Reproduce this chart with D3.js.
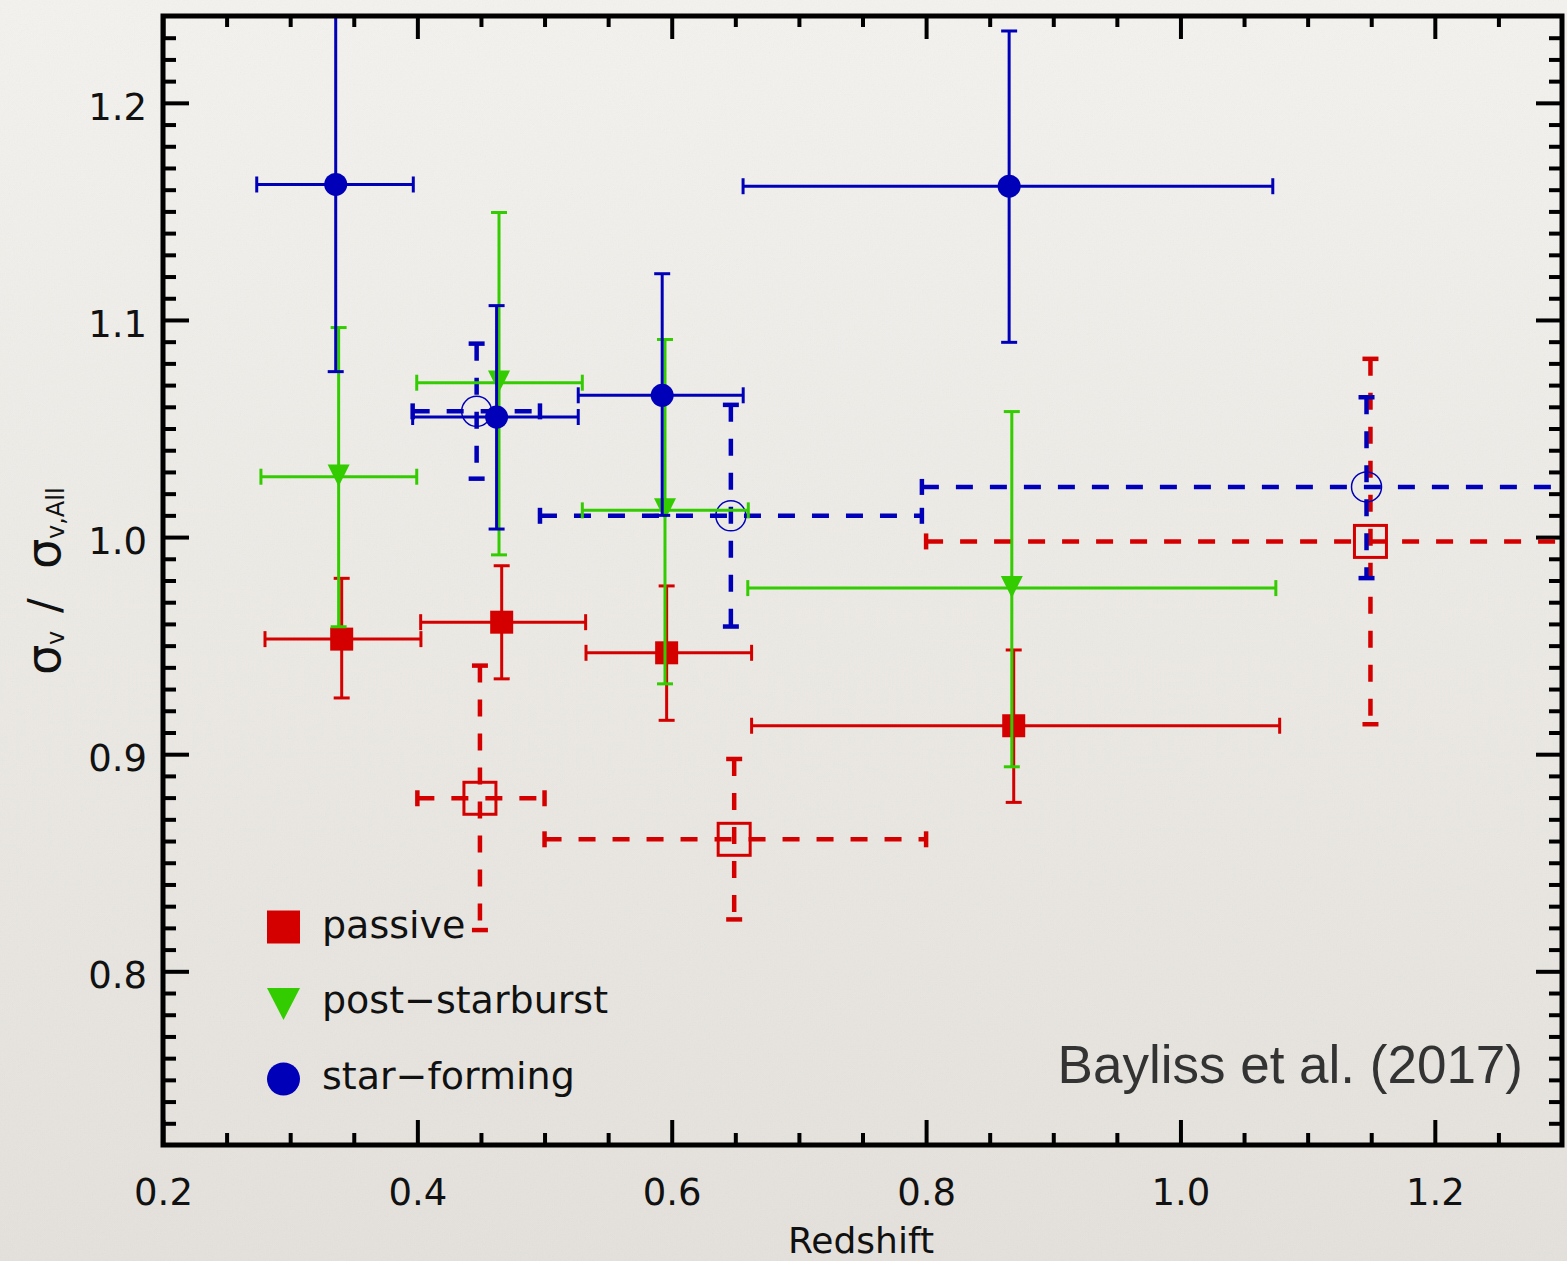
<!DOCTYPE html>
<html>
<head>
<meta charset="utf-8">
<script src="https://cdn.jsdelivr.net/npm/d3@7"></script>
<style>
  html, body { margin: 0; padding: 0; background: #eeebe6; }
  svg { display: block; }
</style>
</head>
<body>
<svg id="chart" width="1567" height="1261"></svg>
<script>
// ---- Data: velocity dispersion ratio vs redshift, by galaxy type ----
// Passive (filled squares, solid bars)
const passiveZ   = [0.3405, 0.4663, 0.5960, 0.8689];
const passiveZLo = [0.2802, 0.4026, 0.5326, 0.6628];
const passiveZHi = [0.4028, 0.5323, 0.6628, 1.0780];
const passiveS   = [0.9530, 0.9608, 0.9467, 0.9131];
const passiveSLo = [0.9259, 0.9347, 0.9156, 0.8778];
const passiveSHi = [0.9810, 0.9868, 0.9775, 0.9480];

// Post-starburst (filled down-triangles, solid bars)
const psbZ   = [0.3381, 0.4642, 0.5947, 0.8674];
const psbZLo = [0.2770, 0.3995, 0.5297, 0.6598];
const psbZHi = [0.3995, 0.5297, 0.6602, 1.0750];
const psbS   = [1.0278, 1.0711, 1.0123, 0.9765];
const psbSLo = [0.9587, 0.9918, 0.9324, 0.8942];
const psbSHi = [1.0965, 1.1495, 1.0910, 1.0578];

// Star-forming (filled circles, solid bars)
const sfZ   = [0.3358, 0.4623, 0.5925, 0.8653];
const sfZLo = [0.2737, 0.3963, 0.5265, 0.6561];
const sfZHi = [0.3968, 0.5265, 0.6562, 1.0726];
const sfS   = [1.1624, 1.0553, 1.0653, 1.1616];
const sfSLo = [1.0762, 1.0037, 1.0100, 1.0897];
const sfSHi = [1.2486, 1.1066, 1.1213, 1.2331];

// Passive, wide redshift bins (open squares, dashed bars)
const passiveBinZ   = [0.4492, 0.6491, 1.1494];
const passiveBinZLo = [0.4000, 0.5000, 0.8000];
const passiveBinZHi = [0.5000, 0.8000, 1.5000];
const passiveBinS   = [0.8797, 0.8608, 0.9980];
const passiveBinSLo = [0.8190, 0.8239, 0.9138];
const passiveBinSHi = [0.9408, 0.8978, 1.0821];

// Star-forming, wide redshift bins (open circles, dashed bars)
const sfBinZ   = [0.4466, 0.6465, 1.1463];
const sfBinZLo = [0.3963, 0.4964, 0.7967];
const sfBinZHi = [0.4964, 0.7967, 1.5000];
const sfBinS   = [1.0579, 1.0098, 1.0231];
const sfBinSLo = [1.0269, 0.9588, 0.9811];
const sfBinSHi = [1.0891, 1.0609, 1.0644];

// Axis ticks
const xMajorTicks = [0.2, 0.4, 0.6, 0.8, 1.0, 1.2];
const yMajorTicks = [0.8, 0.9, 1.0, 1.1, 1.2];
const legendLabels = ["passive", "post\u2212starburst", "star\u2212forming"];

const RED = "#d40000", GREEN = "#33cc00", BLUE = "#0000b8";

const svg = d3.select("#chart");
const W = 1567, H = 1261;
const L = 163, R = 1562, T = 16, B = 1145;

// ---- Paper background ----
const defs = svg.append("defs");
const bg = defs.append("linearGradient").attr("id", "paper")
  .attr("x1", 0).attr("y1", 0).attr("x2", 0).attr("y2", 1);
bg.append("stop").attr("offset", "0%").attr("stop-color", "#f4f2ee");
bg.append("stop").attr("offset", "100%").attr("stop-color", "#e4e1dc");
const grain = defs.append("filter").attr("id", "grain")
  .attr("x", 0).attr("y", 0).attr("width", "100%").attr("height", "100%");
grain.append("feTurbulence").attr("type", "fractalNoise")
  .attr("baseFrequency", 0.75).attr("numOctaves", 2).attr("seed", 7);
grain.append("feColorMatrix").attr("type", "saturate").attr("values", 0);
grain.append("feComponentTransfer").append("feFuncA")
  .attr("type", "linear").attr("slope", 0.07);
defs.append("clipPath").attr("id", "plotClip")
  .append("rect").attr("x", L).attr("y", T).attr("width", R - L).attr("height", B - T);

svg.append("rect").attr("width", W).attr("height", H).attr("fill", "url(#paper)");
svg.append("rect").attr("width", W).attr("height", H).attr("filter", "url(#grain)");

// ---- Scales ----
const x = d3.scaleLinear().domain([0.2, 1.3]).range([L, R]);
const y = d3.scaleLinear().domain([0.72, 1.24]).range([B, T]);

// ---- Axes (ticks pointing inward on all four sides) ----
const fmt = d3.format(".1f");
const xMinor = d3.range(0.25, 1.3, 0.05).map(v => +v.toFixed(2))
  .filter(v => !xMajorTicks.some(t => Math.abs(t - v) < 1e-6));
const yMinor = d3.range(73, 124).map(v => v / 100)
  .filter(v => !yMajorTicks.some(t => Math.abs(t - v) < 1e-6));

function styleAxis(g) {
  g.select(".domain").remove();
  g.selectAll(".tick line").attr("stroke", "#000").attr("stroke-width", 4);
}

const axBottom = svg.append("g").attr("transform", `translate(0,${B})`)
  .call(d3.axisBottom(x).tickValues(xMajorTicks).tickSizeInner(-25).tickSizeOuter(0).tickFormat(fmt));
styleAxis(axBottom);
axBottom.selectAll("text").attr("y", 60).attr("dy", 0)
  .attr("font-family", "DejaVu Sans").attr("font-size", 37).attr("fill", "#111");
svg.append("g").attr("transform", `translate(0,${B})`)
  .call(d3.axisBottom(x).tickValues(xMinor).tickSizeInner(-12).tickSizeOuter(0).tickFormat(""))
  .call(styleAxis);

svg.append("g").attr("transform", `translate(0,${T})`)
  .call(d3.axisTop(x).tickValues(xMajorTicks).tickSizeInner(-23).tickSizeOuter(0).tickFormat(""))
  .call(styleAxis);
svg.append("g").attr("transform", `translate(0,${T})`)
  .call(d3.axisTop(x).tickValues(xMinor).tickSizeInner(-11).tickSizeOuter(0).tickFormat(""))
  .call(styleAxis);

const axLeft = svg.append("g").attr("transform", `translate(${L},0)`)
  .call(d3.axisLeft(y).tickValues(yMajorTicks).tickSizeInner(-26).tickSizeOuter(0).tickPadding(16).tickFormat(fmt));
styleAxis(axLeft);
axLeft.selectAll("text").attr("dy", "0.45em")
  .attr("font-family", "DejaVu Sans").attr("font-size", 37).attr("fill", "#111");
svg.append("g").attr("transform", `translate(${L},0)`)
  .call(d3.axisLeft(y).tickValues(yMinor).tickSizeInner(-13).tickSizeOuter(0).tickFormat(""))
  .call(styleAxis);

svg.append("g").attr("transform", `translate(${R},0)`)
  .call(d3.axisRight(y).tickValues(yMajorTicks).tickSizeInner(-26).tickSizeOuter(0).tickFormat(""))
  .call(styleAxis);
svg.append("g").attr("transform", `translate(${R},0)`)
  .call(d3.axisRight(y).tickValues(yMinor).tickSizeInner(-13).tickSizeOuter(0).tickFormat(""))
  .call(styleAxis);

// ---- Error bars and markers ----
const plot = svg.append("g").attr("clip-path", "url(#plotClip)");

function zipSeries(z, zLo, zHi, s, sLo, sHi) {
  return z.map((v, i) => ({ z: v, zLo: zLo[i], zHi: zHi[i], s: s[i], sLo: sLo[i], sHi: sHi[i] }));
}

function errorBars(data, color, dashed) {
  const g = plot.append("g")
    .attr("stroke", color).attr("fill", "none")
    .attr("stroke-width", dashed ? 4.5 : 3);
  const cap = 8;
  data.forEach(d => {
    const cx = x(d.z), cy = y(d.s);
    const h = g.append("line")
      .attr("x1", x(d.zLo)).attr("x2", x(d.zHi)).attr("y1", cy).attr("y2", cy);
    const v = g.append("line")
      .attr("x1", cx).attr("x2", cx).attr("y1", y(d.sHi)).attr("y2", y(d.sLo));
    if (dashed) {
      h.attr("stroke-dasharray", "17,17");
      v.attr("stroke-dasharray", "17,17");
    }
    // caps
    [x(d.zLo), x(d.zHi)].forEach(px => {
      g.append("line").attr("x1", px).attr("x2", px).attr("y1", cy - cap).attr("y2", cy + cap);
    });
    [y(d.sLo), y(d.sHi)].forEach(py => {
      g.append("line").attr("x1", cx - cap).attr("x2", cx + cap).attr("y1", py).attr("y2", py);
    });
  });
  return g;
}

const triPath = (cx, cy, w, h) =>
  `M${cx - w / 2},${cy - h * 0.55} L${cx + w / 2},${cy - h * 0.55} L${cx},${cy + h * 0.45} Z`;

const passiveBin = zipSeries(passiveBinZ, passiveBinZLo, passiveBinZHi, passiveBinS, passiveBinSLo, passiveBinSHi);
const sfBin = zipSeries(sfBinZ, sfBinZLo, sfBinZHi, sfBinS, sfBinSLo, sfBinSHi);
const passive = zipSeries(passiveZ, passiveZLo, passiveZHi, passiveS, passiveSLo, passiveSHi);
const psb = zipSeries(psbZ, psbZLo, psbZHi, psbS, psbSLo, psbSHi);
const sf = zipSeries(sfZ, sfZLo, sfZHi, sfS, sfSLo, sfSHi);

// wide bins: open markers
errorBars(passiveBin, RED, true);
plot.append("g").selectAll("rect").data(passiveBin).join("rect")
  .attr("x", d => x(d.z) - 16).attr("y", d => y(d.s) - 16)
  .attr("width", 32).attr("height", 32)
  .attr("fill", "none").attr("stroke", RED).attr("stroke-width", 3);

errorBars(sfBin, BLUE, true);
plot.append("g").selectAll("circle").data(sfBin).join("circle")
  .attr("cx", d => x(d.z)).attr("cy", d => y(d.s)).attr("r", 15)
  .attr("fill", "none").attr("stroke", BLUE).attr("stroke-width", 1.5);

// passive
errorBars(passive, RED, false);
plot.append("g").selectAll("rect").data(passive).join("rect")
  .attr("x", d => x(d.z) - 11.5).attr("y", d => y(d.s) - 11.5)
  .attr("width", 23).attr("height", 23).attr("fill", RED);

// post-starburst
errorBars(psb, GREEN, false);
plot.append("g").selectAll("path").data(psb).join("path")
  .attr("d", d => triPath(x(d.z), y(d.s), 22, 22)).attr("fill", GREEN);

// star-forming
errorBars(sf, BLUE, false);
plot.append("g").selectAll("circle").data(sf).join("circle")
  .attr("cx", d => x(d.z)).attr("cy", d => y(d.s)).attr("r", 11.5).attr("fill", BLUE);

// ---- Frame ----
svg.append("rect").attr("x", L).attr("y", T).attr("width", R - L).attr("height", B - T)
  .attr("fill", "none").attr("stroke", "#000").attr("stroke-width", 5);

// ---- Legend ----
const legend = svg.append("g");
const legY = [927, 1003, 1079];
legend.append("rect").attr("x", 267).attr("y", legY[0] - 16.5).attr("width", 33).attr("height", 33).attr("fill", RED);
legend.append("path").attr("d", `M267,${legY[1] - 15} L300,${legY[1] - 15} L283.5,${legY[1] + 17} Z`).attr("fill", GREEN);
legend.append("ellipse").attr("cx", 283.5).attr("cy", legY[2]).attr("rx", 16.5).attr("ry", 16.5).attr("fill", BLUE);
legend.selectAll("text").data(legendLabels).join("text")
  .attr("x", 322).attr("y", (d, i) => [938, 1013, 1089][i])
  .attr("font-family", "DejaVu Sans").attr("font-size", 38).attr("fill", "#111")
  .text(d => d);

// ---- Credit ----
svg.append("text").attr("x", 1523).attr("y", 1083).attr("text-anchor", "end")
  .attr("font-family", "Liberation Sans, Arial, sans-serif").attr("font-size", 53)
  .attr("fill", "#333").text("Bayliss et al. (2017)");

// ---- Axis titles ----
svg.append("text").attr("x", 861).attr("y", 1253).attr("text-anchor", "middle")
  .attr("font-family", "DejaVu Sans").attr("font-size", 36).attr("fill", "#111")
  .text("Redshift");

const yt = svg.append("g").attr("transform", "translate(60,583) rotate(-90)")
  .attr("font-family", "DejaVu Sans").attr("fill", "#111");
yt.append("text").attr("x", -92).attr("y", 0).attr("font-size", 48).text("\u03c3");
yt.append("text").attr("x", -62).attr("y", 4).attr("font-size", 24).text("v");
yt.append("text").attr("x", -30).attr("y", 0).attr("font-size", 44).text("/");
yt.append("text").attr("x", 14).attr("y", 0).attr("font-size", 48).text("\u03c3");
yt.append("text").attr("x", 44).attr("y", 4).attr("font-size", 24).text("v,All");
</script>
</body>
</html>
